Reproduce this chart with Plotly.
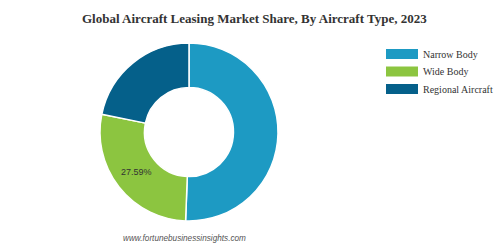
import plotly.graph_objects as go

# Data
categories = ["Narrow Body", "Wide Body", "Regional Aircraft"]
shares = [50.61, 27.59, 21.80]
colors = ["#1d9ac3", "#8cc540", "#05608a"]
label_shown = [False, True, False]

W, H = 498, 248
cx, cy, r = 189, 132, 89

fig = go.Figure()
fig.add_trace(go.Pie(
    labels=categories,
    values=shares,
    sort=False,
    direction="clockwise",
    rotation=0,
    hole=0.5,
    marker=dict(colors=colors, line=dict(color="white", width=1.5)),
    textinfo="none",
    showlegend=False,
    domain=dict(x=[(cx - r) / W, (cx + r) / W], y=[(H - cy - r) / H, (H - cy + r) / H]),
    hoverinfo="label+percent",
))

annotations = []
shapes = []
# data label for shown slices
for cat, val, show in zip(categories, shares, label_shown):
    if show:
        annotations.append(dict(text=f"{val:.2f}%", x=136 / W, y=(H - 172) / H,
                                xref="paper", yref="paper", showarrow=False,
                                font=dict(family="Liberation Sans, Arial", size=9, color="#333333"),
                                xanchor="center", yanchor="middle"))

# custom legend
leg_y0 = 54
for i, (cat, col) in enumerate(zip(categories, colors)):
    yc = leg_y0 + i * 17.5
    shapes.append(dict(type="rect", xref="paper", yref="paper",
                       x0=386 / W, x1=418 / W, y0=(H - yc - 5) / H, y1=(H - yc + 5) / H,
                       fillcolor=col, line=dict(width=0)))
    annotations.append(dict(text=cat, x=421 / W, y=(H - yc) / H, xref="paper", yref="paper",
                            showarrow=False, xanchor="left", yanchor="middle",
                            font=dict(family="Liberation Serif, Times New Roman", size=10, color="#333333")))

# title
annotations.append(dict(text="<b>Global Aircraft Leasing Market Share, By Aircraft Type, 2023</b>",
                        x=254 / W, y=(H - 18) / H, xref="paper", yref="paper", showarrow=False,
                        xanchor="center", yanchor="middle",
                        font=dict(family="Liberation Serif, Times New Roman", size=13, color="#333333")))
# footer
annotations.append(dict(text="<i>www.fortunebusinessinsights.com</i>",
                        x=184 / W, y=(H - 238) / H, xref="paper", yref="paper", showarrow=False,
                        xanchor="center", yanchor="middle",
                        font=dict(family="Liberation Sans, Arial", size=8.2, color="#555555")))

fig.update_layout(width=W, height=H, margin=dict(l=0, r=0, t=0, b=0),
                  paper_bgcolor="white", plot_bgcolor="white",
                  annotations=annotations, shapes=shapes)

fig.write_html("out.html")
